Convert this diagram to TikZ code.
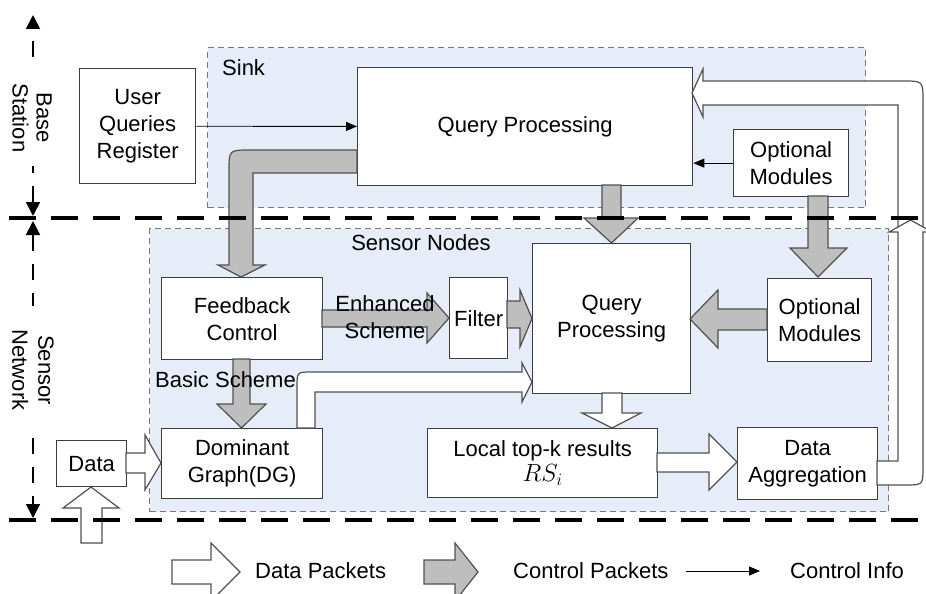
\documentclass[tikz,border=0pt]{standalone}
\usepackage{fontspec}
\setmainfont{Liberation Sans}
\usetikzlibrary{arrows.meta}
\definecolor{regf}{RGB}{231,237,248}
\definecolor{regd}{RGB}{120,120,120}
\definecolor{boxd}{RGB}{60,60,60}
\definecolor{gfill}{RGB}{190,190,190}
\definecolor{gedge}{RGB}{80,80,80}
\newcommand{\dfont}{\fontsize{22}{27}\selectfont}
\begin{document}
\begin{tikzpicture}[x=1pt,y=-1pt,
 box/.style={draw=boxd, fill=white, line width=1.3pt, align=center, inner sep=0pt, font=\dfont, anchor=north west},
 region/.style={draw=regd, fill=regf, line width=1.2pt, dash pattern=on 6pt off 4pt, anchor=north west, inner sep=0pt},
 garrow/.style={fill=gfill, draw=gedge, line width=1.2pt, line join=miter},
 warrow/.style={fill=white, draw=gedge, line width=1.2pt, line join=miter},
 ctrl/.style={draw=black, line width=0.9pt, -{Triangle[length=11pt,width=9pt]}},
 lbl/.style={font=\dfont, inner sep=0pt, align=center},
 axisline/.style={line width=1.8pt, dash pattern=on 16pt off 13pt, {Triangle[length=14pt,width=14pt]}-{Triangle[length=14pt,width=14pt]}},
 divider/.style={line width=4pt, dash pattern=on 27pt off 15pt}
]
\useasboundingbox (0,0) rectangle (926,594);
\clip (0,0) rectangle (926,594);

% regions
\node[region, minimum width=658pt, minimum height=160pt] (sink) at (207,47) {};
\node[region, minimum width=739pt, minimum height=283pt] (sensor) at (149,228) {};
\node[lbl, anchor=west] (sinklbl) at (222,68) {Sink};
\node[lbl] (sensorlbl) at (421,243) {Sensor Nodes};

% boxes
\node[box, minimum width=116pt, minimum height=115pt] (uqr) at (79,68) {User\\Queries\\Register};
\node[box, minimum width=335pt, minimum height=118pt] (qp1) at (357,67) {Query Processing};
\node[box, minimum width=115pt, minimum height=67pt] (opt1) at (733,129) {Optional\\Modules};
\node[box, minimum width=161pt, minimum height=82pt] (fb) at (161,277) {Feedback\\Control};
\node[box, minimum width=58pt, minimum height=81pt] (filter) at (449,277) {Filter};
\node[box, minimum width=158pt, minimum height=150pt] (qp2) at (532,243) {Query\\Processing};
\node[box, minimum width=104pt, minimum height=83pt] (opt2) at (767,278) {Optional\\Modules};
\node[box, minimum width=161pt, minimum height=70pt] (dg) at (161,428) {Dominant\\Graph(DG)};
\node[box, minimum width=230pt, minimum height=69pt] (local) at (427,428) {Local top-k results\\[-2pt]{\fontsize{27}{27}\selectfont$RS_i$}};
\node[box, minimum width=140pt, minimum height=72pt] (da) at (737,427) {Data\\Aggregation};
\node[box, minimum width=70pt, minimum height=46pt] (data) at (56,440) {Data};

% gray (control packet) arrows
\draw[garrow] (357,150) -- (250,150) .. controls (229,150) .. (229,171) -- (229,265) -- (218,265) -- (241,277) -- (265,265) -- (253,265) -- (253,173) -- (357,173) -- cycle;
\draw[garrow] (602,185) -- (602,218) -- (584,218) -- (611.5,243) -- (638,218) -- (621,218) -- (621,185) -- cycle;
\draw[garrow] (808,196) -- (808,248) -- (790,248) -- (818,277) -- (847,248) -- (828,248) -- (828,196) -- cycle;
\draw[garrow] (233,359) -- (233,404) -- (217,404) -- (241.5,428) -- (266,404) -- (250,404) -- (250,359) -- cycle;
\draw[garrow] (322,310) -- (427,310) -- (427,293) -- (449,318) -- (427,343) -- (427,327) -- (322,327) -- cycle;
\draw[garrow] (507,301) -- (520,301) -- (520,290) -- (532,318.5) -- (520,347) -- (520,328) -- (507,328) -- cycle;
\draw[garrow] (767,309) -- (718,309) -- (718,290) -- (690,319) -- (718,348) -- (718,330) -- (767,330) -- cycle;

% white (data packet) arrows
\draw[warrow] (297,428) -- (297,387) .. controls (297,372) .. (312,372) -- (522,372) -- (522,363) -- (532,382) -- (522,402) -- (522,392) -- (315,392) -- (315,428) -- cycle;
\draw[warrow] (602,393) -- (602,413) -- (582,413) -- (612,428) -- (641,413) -- (622,413) -- (622,393) -- cycle;
\draw[warrow] (657,453) -- (709,453) -- (709,434) -- (737,462) -- (709,490) -- (709,472) -- (657,472) -- cycle;
\draw[warrow] (126,453) -- (145,453) -- (145,435) -- (161,463) -- (145,490) -- (145,473) -- (126,473) -- cycle;
\draw[warrow] (81,543) -- (81,508) -- (63,508) -- (91,487) -- (119,508) -- (102,508) -- (102,543) -- cycle;
\fill[white] (898,232) -- (898,105) -- (703,105) -- (703,117) -- (692,93) -- (703,69) -- (703,81) -- (903,81) .. controls (923,81) .. (923,101) -- (923,232) -- cycle;
\draw[warrow, fill=none] (898,232) -- (898,105) -- (703,105) -- (703,117) -- (692,93) -- (703,69) -- (703,81) -- (903,81) .. controls (923,81) .. (923,101) -- (923,232);
\draw[warrow] (877,461) -- (898,461) -- (898,232) -- (889,232) -- (910.5,220) -- (932,232) -- (923,232) -- (923,467) .. controls (923,485) .. (905,485) -- (877,485) -- cycle;

% scheme labels
\node[lbl] (enh) at (385,317) {Enhanced\\Scheme};
\node[lbl, anchor=west] (basic) at (155,380) {Basic Scheme};

% control info arrows
\draw[ctrl] (uqr) -- (qp1);
\draw[ctrl] (opt1) -- (opt1 -| qp1.east);

% dividers
\draw[divider] (9,218) -- (926,218);
\draw[divider] (9,520) -- (926,520);

% axis
\coordinate (axtop) at (33,15);
\coordinate (axmid1) at (33,216);
\coordinate (axmid2) at (33,221);
\coordinate (axbot) at (33,518);
\draw[axisline] (axmid1) -- (axtop);
\draw[axisline] (axmid2) -- (axbot);
\node[lbl, rotate=-90, fill=white, inner xsep=14pt, inner ysep=1pt, font=\fontsize{22}{24}\selectfont] (bs) at (32,118) {Base\\Station};
\node[lbl, rotate=-90, fill=white, inner xsep=24pt, inner ysep=1pt, font=\fontsize{22}{26}\selectfont] (sn) at (33,370) {Sensor\\Network};

% legend
\draw[warrow] (172,560) -- (211,560) -- (211,543) -- (240,572) -- (211,601) -- (211,584) -- (172,584) -- cycle;
\node[lbl, anchor=west] (lgdata) at (255,571) {Data Packets};
\draw[garrow] (424,560) -- (455,560) -- (455,543) -- (478,572) -- (455,601) -- (455,584) -- (424,584) -- cycle;
\node[lbl, anchor=west] (lgctrl) at (513,571) {Control Packets};
\node[lbl, anchor=west] (lginfo) at (790,571) {Control Info};
\coordinate (lgstart) at (686,571);
\draw[ctrl] (lgstart) -- ([xshift=-30pt]lginfo.west);
\end{tikzpicture}
\end{document}
